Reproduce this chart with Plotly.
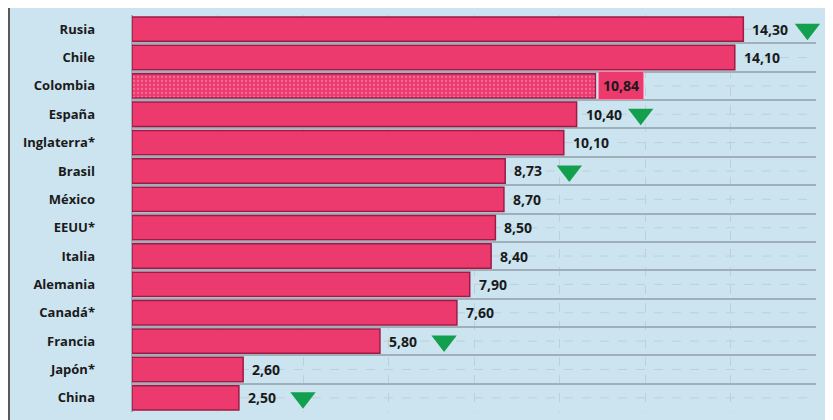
import plotly.graph_objects as go

paises = ["Rusia", "Chile", "Colombia", "España", "Inglaterra*", "Brasil", "México",
          "EEUU*", "Italia", "Alemania", "Canadá*", "Francia", "Japón*", "China"]
valores = [14.30, 14.10, 10.84, 10.40, 10.10, 8.73, 8.70, 8.50, 8.40, 7.90, 7.60, 5.80, 2.60, 2.50]
etiquetas = ["14,30", "14,10", "10,84", "10,40", "10,10", "8,73", "8,70", "8,50", "8,40",
             "7,90", "7,60", "5,80", "2,60", "2,50"]
baja = ["Rusia", "España", "Brasil", "Francia", "China"]
destacado = "Colombia"

BG = "#cce4f0"
PINK = "#ec3a6e"
EDGE = "#9e1b45"
GREEN = "#13a04e"
FONT = "Open Sans"

# page body has an 8px default margin; size the figure to fill the rest of the window
OFF = 8
W, H = 833 - OFF, 420 - OFF
ml, mr, mt, mb = 132 - OFF, 17, 15 - OFF, 8
pw, ph = W - ml - mr, H - mt - mb

fig = go.Figure()

patterns = ["." if p == destacado else "" for p in paises]

fig.add_trace(go.Bar(
    x=valores, y=paises, orientation="h",
    marker=dict(color=PINK, line=dict(color=EDGE, width=1.5),
                pattern=dict(shape=patterns, fgcolor="#f9a3bf", size=4, solidity=0.25,
                             fillmode="overlay")),
    width=0.86, hoverinfo="skip",
))

tx = [v + 1.5 for p, v in zip(paises, valores) if p in baja]
ty = [p for p in paises if p in baja]
fig.add_trace(go.Scatter(
    x=tx, y=ty, mode="markers",
    marker=dict(symbol="triangle-down", size=22, color=GREEN, line=dict(width=0)),
    cliponaxis=False, hoverinfo="skip",
))

shapes = [dict(type="rect", xref="paper", yref="paper",
               x0=(1 - ml) / pw, x1=(830 - OFF - ml) / pw,
               y0=-0.2, y1=(H - mb + 2) / ph,
               fillcolor=BG, line=dict(color="#5a5a5a", width=2), layer="below")]
for p in paises:
    shapes.append(dict(type="line", xref="x", yref="y", x0=0, x1=16, y0=p, y1=p,
                       line=dict(color="#bfcfd8", width=1, dash="dash"), layer="below"))

annotations = []
for p, v, t in zip(paises, valores, etiquetas):
    if p == destacado:
        annotations.append(dict(x=v, y=p, xref="x", yref="y", text="<b>" + t + "</b>",
                                showarrow=False, xanchor="left", xshift=3,
                                font=dict(family=FONT, size=14, color="#1a1a1a"),
                                bgcolor=PINK, bordercolor="#f48aa8", borderwidth=1, borderpad=4))
    else:
        annotations.append(dict(x=v, y=p, xref="x", yref="y", text="<b>" + t + "</b>",
                                showarrow=False, xanchor="left", xshift=7,
                                font=dict(family=FONT, size=14, color="#1a1a1a")))

fig.update_layout(
    width=W, height=H,
    margin=dict(l=ml, r=mr, t=mt, b=mb, autoexpand=False),
    paper_bgcolor="white", plot_bgcolor=BG,
    showlegend=False, bargap=0.14,
    shapes=shapes, annotations=annotations,
    xaxis=dict(range=[0, 16], dtick=2, showticklabels=False, showgrid=True,
               gridcolor="#bfcfd8", griddash="dash", gridwidth=1,
               zeroline=True, zerolinecolor="#9fb0bb", zerolinewidth=1.5, fixedrange=True),
    yaxis=dict(categoryorder="array", categoryarray=paises,
               range=[len(paises) - 0.5, -0.5], autorange=False,
               tickson="boundaries", showgrid=True, gridcolor="#9fb0bb", gridwidth=1.5,
               ticks="", ticklabelstandoff=36,
               tickfont=dict(family=FONT, size=13, color="#1a1a1a", weight="bold"),
               fixedrange=True),
    font=dict(family=FONT),
)

fig.write_html("out.html")
